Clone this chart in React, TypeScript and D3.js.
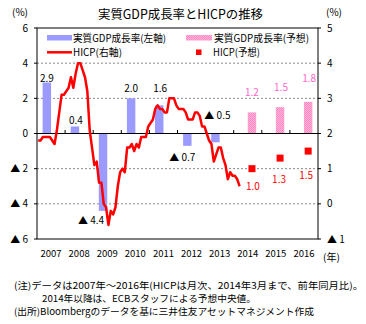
import React from "react";
import * as d3 from "d3";

const years = ["2007", "2008", "2009", "2010", "2011", "2012", "2013", "2014", "2015", "2016"];
const gdpActual: (number | null)[] = [2.9, 0.4, -4.4, 2.0, 1.6, -0.7, -0.5, null, null, null];
const gdpForecast: (number | null)[] = [null, null, null, null, null, null, null, 1.2, 1.5, 1.8];
const hicpForecast: (number | null)[] = [null, null, null, null, null, null, null, 1.0, 1.3, 1.5];
// Monthly HICP (y/y %), Jan 2007 – Mar 2014
const hicpMonthly = [
  1.8, 1.8, 1.9, 1.9, 1.9, 1.9, 1.8, 1.7, 2.1, 2.6, 3.1, 3.1,
  3.2, 3.3, 3.6, 3.3, 3.7, 4.0, 4.0, 3.8, 3.6, 3.2, 2.1, 1.6,
  1.1, 1.2, 0.6, 0.6, 0.0, -0.1, -0.6, -0.2, -0.3, -0.1, 0.5, 0.9,
  1.0, 0.9, 1.6, 1.6, 1.7, 1.5, 1.7, 1.6, 1.9, 1.9, 1.9, 2.2,
  2.3, 2.4, 2.7, 2.8, 2.7, 2.7, 2.6, 2.6, 3.0, 3.0, 3.0, 2.8,
  2.7, 2.7, 2.7, 2.6, 2.4, 2.4, 2.4, 2.6, 2.6, 2.5, 2.2, 2.2,
  2.0, 1.8, 1.7, 1.2, 1.4, 1.6, 1.6, 1.3, 1.1, 0.7, 0.9, 0.8,
  0.8, 0.7, 0.5,
];
const leftTicks = [6, 4, 2, 0, -2, -4, -6];
const rightTicks = [5, 4, 3, 2, 1, 0, -1];

// label anchors (axis units) – layout only
const gdpLabelAt = [2.93, 0.54, -5.15, 2.36, 2.36, -1.56, 0.82];
const gdpLabelDx = [0, 1, -12, 0, 1, -5, 2];
const fcLabelAt = [2.13, 2.42, 2.93];
const fcLabelDx = [0, 1, 1];
const hicpLabelAt = [0.4, 0.6, 0.71];
const hicpLabelDx = [1, -1, -2];

const FONT = "'Noto Sans CJK JP', 'Noto Sans', sans-serif";
const fmtTick = (v: number) => (v < 0 ? `▲ ${Math.abs(v)}` : `${v}`);
const fmtVal = (v: number) => (v < 0 ? `▲ ${Math.abs(v).toFixed(1)}` : v.toFixed(1));

export default function App() {
  const W = 366, H = 324;
  const x0 = 37, x1 = 318, yT = 28, yB = 239;
  const x = d3.scaleBand<string>().domain(years).range([x0, x1]).padding(0);
  const bw = x.bandwidth();
  const yL = d3.scaleLinear().domain([-6, 6]).range([yB, yT]);
  const yR = d3.scaleLinear().domain([-1, 5]).range([yB, yT]);
  const barW = bw * 0.3;
  const cx = (i: number) => (x(years[i]) as number) + bw / 2;
  const tMonth = d3.scaleLinear().domain([0, 12]).range([0, bw]);
  const line = d3
    .line<number>()
    .x((_, i) => x0 + tMonth(i + 0.5))
    .y((d) => yR(d))
    .curve(d3.curveLinear);

  const gridVals = [4, 2, -2, -4];
  const red = "#ff0000";
  const blue = "#9a9aff";
  const pinkText = "#ff66cc";

  return (
    <svg width={W} height={H} style={{ position: "absolute", left: 0, top: 0, background: "#fff" }} fontFamily={FONT}>
      <defs>
        <pattern id="pinkHatch" width="2" height="2" patternUnits="userSpaceOnUse">
          <rect width="2" height="2" fill="#ffb3d9" />
          <rect width="1" height="1" fill="#ff88c4" />
          <rect x="1" y="1" width="1" height="1" fill="#ff88c4" />
        </pattern>
      </defs>
      <rect width={W} height={H} fill="#fff" />
      {/* Title */}
      <text x={98} y={19} fontSize={12.5} textLength={165} lengthAdjust="spacingAndGlyphs">
        実質GDP成長率とHICPの推移
      </text>
      <text x={12} y={16} fontSize={10}>(%)</text>
      <text x={326} y={16} fontSize={10}>(%)</text>

      {/* grid */}
      {gridVals.map((v) => (
        <line key={v} x1={x0} x2={x1} y1={yL(v)} y2={yL(v)} stroke="#888" strokeDasharray="2,2" strokeWidth={1} />
      ))}

      {/* GDP actual bars */}
      {gdpActual.map((v, i) =>
        v === null ? null : (
          <rect key={"a" + i} x={cx(i) - barW} y={Math.min(yL(v), yL(0))} width={barW} height={Math.abs(yL(v) - yL(0))} fill={blue} />
        )
      )}
      {/* GDP forecast bars */}
      {gdpForecast.map((v, i) =>
        v === null ? null : (
          <rect key={"f" + i} x={cx(i)} y={Math.min(yL(v), yL(0))} width={barW} height={Math.abs(yL(v) - yL(0))} fill="url(#pinkHatch)" />
        )
      )}

      {/* zero line & year ticks */}
      <line x1={x0} x2={x1} y1={yL(0)} y2={yL(0)} stroke="#000" strokeWidth={1.2} />
      {years.slice(1).map((yr) => (
        <line key={yr} x1={x(yr) as number} x2={x(yr) as number} y1={yL(0)} y2={yL(0) - 3.5} stroke="#000" />
      ))}

      {/* HICP line */}
      <path d={line(hicpMonthly) || ""} fill="none" stroke={red} strokeWidth={2.5} strokeLinejoin="round" />

      {/* HICP forecast squares */}
      {hicpForecast.map((v, i) =>
        v === null ? null : (
          <rect key={"h" + i} x={cx(i) + barW / 2 - 3.5} y={yR(v) - 3.5} width={7} height={7} fill={red} />
        )
      )}

      {/* frame */}
      <rect x={x0} y={yT} width={x1 - x0} height={yB - yT} fill="none" stroke="#000" strokeWidth={1} />
      {leftTicks.map((v) => (
        <line key={"lt" + v} x1={x0 - 3} x2={x0} y1={yL(v)} y2={yL(v)} stroke="#000" />
      ))}
      {rightTicks.map((v) => (
        <line key={"rt" + v} x1={x1} x2={x1 + 3} y1={yR(v)} y2={yR(v)} stroke="#000" />
      ))}

      {/* axis labels */}
      {leftTicks.map((v) => (
        <text key={"ll" + v} x={28} y={yL(v) + 3.5} fontSize={10} textAnchor="end">
          {fmtTick(v)}
        </text>
      ))}
      {rightTicks.map((v) => (
        <text key={"rl" + v} x={327} y={yR(v) + 3.5} fontSize={10}>
          {fmtTick(v)}
        </text>
      ))}
      {years.map((yr) => (
        <text key={"y" + yr} x={(x(yr) as number) + bw / 2} y={257} fontSize={9.5} textAnchor="middle">
          {yr}
        </text>
      ))}
      <text x={323} y={261} fontSize={10}>(年)</text>

      {/* value labels */}
      {gdpActual.map((v, i) =>
        v === null ? null : (
          <text key={"al" + i} x={cx(i) - barW / 2 + gdpLabelDx[i]} y={yL(gdpLabelAt[i])} fontSize={10} textAnchor="middle">
            {fmtVal(v)}
          </text>
        )
      )}
      {gdpForecast
        .map((v, i) => ({ v, i }))
        .filter((d) => d.v !== null)
        .map((d, k) => (
          <text key={"fl" + d.i} x={cx(d.i) + barW / 2 + fcLabelDx[k]} y={yL(fcLabelAt[k])} fontSize={10} textAnchor="middle" fill={pinkText}>
            {fmtVal(d.v as number)}
          </text>
        ))}
      {hicpForecast
        .map((v, i) => ({ v, i }))
        .filter((d) => d.v !== null)
        .map((d, k) => (
          <text key={"hl" + d.i} x={cx(d.i) + barW / 2 + hicpLabelDx[k]} y={yR(hicpLabelAt[k])} fontSize={10} textAnchor="middle" fill={red}>
            {fmtVal(d.v as number)}
          </text>
        ))}

      {/* legend */}
      <rect x={47} y={35} width={25} height={5.5} fill={blue} />
      <text x={73} y={41.5} fontSize={10} textLength={93} lengthAdjust="spacingAndGlyphs">実質GDP成長率(左軸)</text>
      <line x1={47} x2={72} y1={52.3} y2={52.3} stroke={red} strokeWidth={2.5} />
      <text x={73} y={56} fontSize={10} textLength={49} lengthAdjust="spacingAndGlyphs">HICP(右軸)</text>
      <rect x={186} y={35} width={26} height={5.5} fill="url(#pinkHatch)" />
      <text x={214} y={41.5} fontSize={10} textLength={95} lengthAdjust="spacingAndGlyphs">実質GDP成長率(予想)</text>
      <rect x={196} y={49.5} width={5.5} height={5.5} fill={red} />
      <text x={213} y={56} fontSize={10} textLength={47} lengthAdjust="spacingAndGlyphs">HICP(予想)</text>

      {/* notes */}
      <text x={14} y={289} fontSize={9.5} textLength={349} lengthAdjust="spacingAndGlyphs">
        (注)データは2007年～2016年(HICPは月次、2014年3月まで、前年同月比)。
      </text>
      <text x={42} y={302} fontSize={9.5} textLength={214} lengthAdjust="spacingAndGlyphs">
        2014年以降は、ECBスタッフによる予想中央値。
      </text>
      <text x={14} y={315} fontSize={9.5} textLength={300} lengthAdjust="spacingAndGlyphs">
        (出所)Bloombergのデータを基に三井住友アセットマネジメント作成
      </text>
    </svg>
  );
}
